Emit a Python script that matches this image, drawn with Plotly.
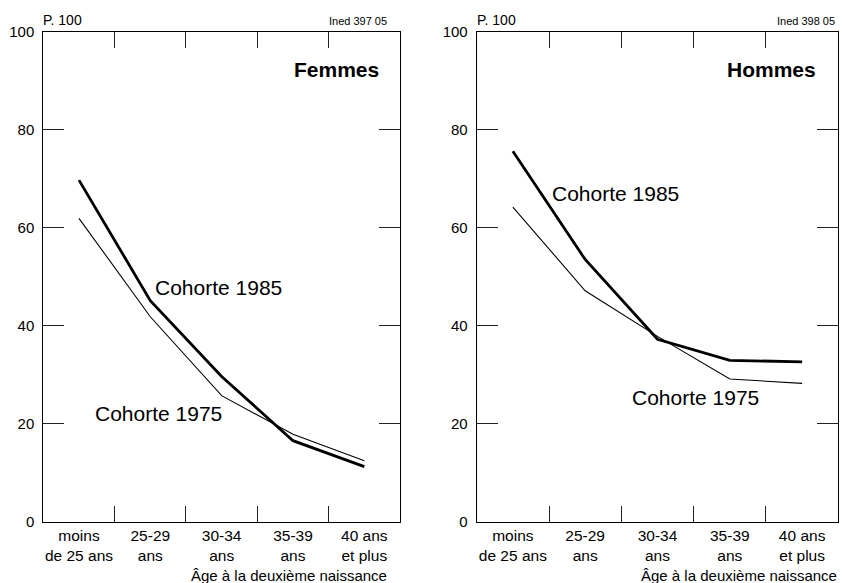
import plotly.graph_objects as go

categories = ["moins<br>de 25 ans", "25-29<br>ans", "30-34<br>ans", "35-39<br>ans", "40 ans<br>et plus"]
femmes_1985 = [69.7, 45.1, 29.6, 16.5, 11.2]
femmes_1975 = [61.9, 41.8, 25.7, 17.8, 12.4]
hommes_1985 = [75.6, 53.5, 37.2, 32.9, 32.6]
hommes_1975 = [64.2, 47.1, 37.8, 29.1, 28.2]
y_ticks = [0, 20, 40, 60, 80, 100]

W, H = 842, 583
FONT = "Liberation Sans, Arial, Helvetica, sans-serif"

def px(x):
    return x / W

def py(y):
    return 1 - y / H

fig = go.Figure()
fig.add_trace(go.Scatter(x=categories, y=femmes_1975, mode="lines",
                         line=dict(color="black", width=1.1), xaxis="x", yaxis="y"))
fig.add_trace(go.Scatter(x=categories, y=femmes_1985, mode="lines",
                         line=dict(color="black", width=2.8), xaxis="x", yaxis="y"))
fig.add_trace(go.Scatter(x=categories, y=hommes_1975, mode="lines",
                         line=dict(color="black", width=1.1), xaxis="x2", yaxis="y2"))
fig.add_trace(go.Scatter(x=categories, y=hommes_1985, mode="lines",
                         line=dict(color="black", width=2.8), xaxis="x2", yaxis="y2"))

ydom = [py(521.5), py(31.7)]

def xaxis_cfg(dom, anchor):
    return dict(domain=dom, anchor=anchor, type="category", categoryorder="array",
                categoryarray=categories, range=[-0.5, 4.5], tickson="boundaries",
                ticks="inside", ticklen=16, tickwidth=1, tickcolor="#222",
                showline=True, linecolor="black", linewidth=1, mirror="ticks",
                showgrid=False, zeroline=False, fixedrange=True, automargin=False,
                tickangle=0,
                tickfont=dict(family=FONT, size=15.5, color="black"),
                ticklabelstandoff=0)

def yaxis_cfg(anchor):
    return dict(domain=ydom, anchor=anchor, range=[0, 100], tickvals=y_ticks,
                ticks="inside", ticklen=21, tickwidth=1, tickcolor="#222",
                showline=True, linecolor="black", linewidth=1, mirror="ticks",
                showgrid=False, zeroline=False, fixedrange=True, automargin=False,
                tickfont=dict(family=FONT, size=15, color="black"),
                ticklabelstandoff=5)

fig.update_layout(
    width=W, height=H, margin=dict(l=0, r=0, t=0, b=0, autoexpand=False),
    paper_bgcolor="white", plot_bgcolor="white", showlegend=False,
    hovermode=False,
    xaxis=xaxis_cfg([px(43.3), px(400)], "y"),
    xaxis2=xaxis_cfg([px(476.7), px(838.3)], "y2"),
    yaxis=yaxis_cfg("x"),
    yaxis2=yaxis_cfg("x2"),
)

def ann(text, x, y, xanchor, size, bold=False):
    fig.add_annotation(text=f"<b>{text}</b>" if bold else text,
                       x=px(x), y=py(y), xref="paper", yref="paper",
                       xanchor=xanchor, yanchor="middle", showarrow=False,
                       borderpad=0,
                       font=dict(family=FONT, size=size, color="black"))

# headers
ann("P. 100", 42, 20, "left", 14)
ann("Ined 397 05", 388, 21, "right", 11)
ann("P. 100", 476, 20, "left", 14)
ann("Ined 398 05", 836, 21, "right", 11)
# panel titles
ann("Femmes", 380, 70, "right", 21, bold=True)
ann("Hommes", 817, 70, "right", 21, bold=True)
# series labels
ann("Cohorte 1985", 154, 288, "left", 21)
ann("Cohorte 1975", 94, 413, "left", 21)
ann("Cohorte 1985", 551, 193, "left", 21)
ann("Cohorte 1975", 631, 397, "left", 21)
# axis titles
ann("Âge à la deuxième naissance", 388, 575, "right", 15)
ann("Âge à la deuxième naissance", 838, 575, "right", 15)

fig.write_html(
    "out.html",
    config={"displayModeBar": False, "staticPlot": True},
    post_script="document.body.style.margin='0';document.body.style.overflow='hidden';",
)
